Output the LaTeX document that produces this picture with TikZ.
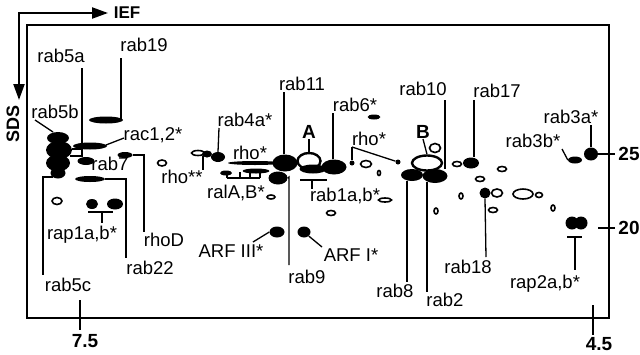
\documentclass[tikz,border=0pt]{standalone}
\usepackage{fontspec}
\setmainfont{Liberation Sans}
\usetikzlibrary{shapes.geometric,arrows.meta}
\begin{document}
\begin{tikzpicture}[x=1pt,y=-1pt,
  lbl/.style={font=\fontsize{18.5}{20}\selectfont, inner sep=0pt},
  blab/.style={font=\fontsize{19}{20}\selectfont\bfseries, inner sep=0pt},
  fs/.style 2 args={ellipse, fill=black, draw=none, inner sep=0pt, minimum width=#1 pt, minimum height=#2 pt},
  os/.style 2 args={ellipse, fill=white, draw=black, line width=1.6pt, inner sep=0pt, minimum width=#1 pt, minimum height=#2 pt},
  osb/.style 2 args={ellipse, fill=white, draw=black, line width=2.4pt, inner sep=0pt, minimum width=#1 pt, minimum height=#2 pt},
  con/.style={line width=1.3pt},
  tick/.style={line width=1.8pt},
  axarrow/.style={line width=2.2pt, {Triangle[length=16pt,width=11pt]}-{Triangle[length=16pt,width=11pt]}}]
\fill[white] (0,0) rectangle (640,354);
\useasboundingbox (0,0) rectangle (640,354);

% frame and axes
\node[draw, line width=1.6pt, minimum width=582pt, minimum height=293pt, inner sep=0pt, anchor=north west] (frame) at (26,24) {};
\node[blab, font=\fontsize{17}{18}\selectfont\bfseries] (ief) at (127,13) {IEF};
\node[blab, font=\fontsize{18}{18}\selectfont\bfseries, rotate=90] (sds) at (13,124) {SDS};
\coordinate (arc) at (19,13);
\coordinate (are) at (108,13);
\coordinate (ars) at (19,100);
\draw[axarrow] (are) -- (arc) -- (ars);
\node[blab] (x75) at (85,341) {7.5};
\node[blab] (x45) at (599,344) {4.5};
\node[blab] (y25) at (629,154) {25};
\node[blab] (y20) at (629,228) {20};
\coordinate (t75a) at (80,300); \coordinate (t75b) at (80,330);
\coordinate (t45a) at (593,305); \coordinate (t45b) at (593,335);
\coordinate (t25a) at (598,154); \coordinate (t25b) at (615,154);
\coordinate (t20a) at (598,228); \coordinate (t20b) at (615,228);
\draw[tick] (t75a) -- (t75b);
\draw[tick] (t45a) -- (t45b);
\draw[tick] (t25a) -- (t25b);
\draw[tick] (t20a) -- (t20b);

% labels
\node[lbl] (l19) at (144,45) {rab19};
\node[lbl] (l5a) at (61,56) {rab5a};
\node[lbl] (l5b) at (55,112) {rab5b};
\node[lbl] (lrac) at (153,135) {rac1,2*};
\node[lbl] (l7) at (110,164) {rab7};
\node[lbl] (lrhoss) at (182,177) {rho**};
\node[lbl] (l4a) at (245,120) {rab4a*};
\node[lbl] (lrho1) at (250,153) {rho*};
\node[lbl] (l11) at (302,84) {rab11};
\node[blab] (lA) at (309,132) {A};
\node[lbl] (l6) at (355,105) {rab6*};
\node[lbl] (lrho2) at (369,139) {rho*};
\node[lbl] (lral) at (236,193) {ralA,B*};
\node[lbl] (l1ab) at (345,196) {rab1a,b*};
\node[lbl] (l10) at (423,89) {rab10};
\node[blab] (lB) at (423,132) {B};
\node[lbl] (l17) at (497,91) {rab17};
\node[lbl] (l3a) at (571,117) {rab3a*};
\node[lbl] (l3b) at (533,141) {rab3b*};
\node[lbl] (lrap1) at (82,235) {rap1a,b*};
\node[lbl] (lrhoD) at (164,240) {rhoD};
\node[lbl] (l22) at (150,268) {rab22};
\node[lbl] (l5c) at (68,285) {rab5c};
\node[lbl] (larf3) at (231,251) {ARF III*};
\node[lbl] (larf1) at (351,255) {ARF I*};
\node[lbl] (l9) at (307,277) {rab9};
\node[lbl] (l8) at (395,291) {rab8};
\node[lbl] (l2) at (445,300) {rab2};
\node[lbl] (l18) at (468,267) {rab18};
\node[lbl] (lrap2) at (545,284) {rap2a,b*};

% leader-line free ends
\coordinate (e19) at (121,58);
\coordinate (e5a) at (82,68);
\coordinate (e5ab) at (82,157);
\coordinate (e5b) at (35,120);
\coordinate (e5bb) at (53,132);
\coordinate (erac) at (124,138);
\coordinate (eracb) at (106,145);
\coordinate (eD) at (144,232);
\coordinate (e22) at (126,258);
\coordinate (e5c) at (43,275);
\coordinate (e5cb) at (53,177);
\coordinate (erapL) at (88,212); \coordinate (erapR) at (113,212);
\coordinate (erapM) at (102,212); \coordinate (erapE) at (102,223);
\coordinate (erho) at (203,170);
\coordinate (e4a) at (219,128);
\coordinate (e11) at (284,92);
\coordinate (e9) at (289,265);
\coordinate (eA) at (309,139);
\coordinate (e6) at (333,113);
\coordinate (e1L) at (300,180); \coordinate (e1R) at (327,180);
\coordinate (e1M) at (312,180); \coordinate (e1E) at (312,189);
\coordinate (erh2) at (352,147);
\coordinate (eB) at (423,139);
\coordinate (e10) at (445,100);
\coordinate (e8) at (407,282);
\coordinate (e2) at (427,292);
\coordinate (e17) at (474,100);
\coordinate (e18) at (486,257);
\coordinate (er2L) at (567,237); \coordinate (er2R) at (582,237);
\coordinate (er2M) at (575,237); \coordinate (er2E) at (575,270);
\coordinate (e3a) at (591,125);
\coordinate (e3b) at (562,149);
\coordinate (ea3) at (253,242);
\coordinate (ea1) at (322,247);
\coordinate (ralL) at (227,178); \coordinate (ralR) at (260,178);

% filled spots
\node[fs={34}{7}] (s19) at (106,120) {};
\node[fs={34}{7}] (srac) at (90,146) {};
\node[fs={22}{12}] (c1) at (58,138) {};
\node[fs={26}{18}] (c2) at (59,150) {};
\node[fs={24}{17}] (c3) at (58,163) {};
\node[fs={15}{11}] (c4) at (58,173) {};
\node[fs={17}{8}] (s7) at (86,161) {};
\node[fs={15}{6}] (sD) at (125,155) {};
\node[fs={30}{6}] (s22) at (90,179) {};
\node[fs={12}{10}] (sr1a) at (92,204) {};
\node[fs={16}{11}] (sr1b) at (115,204) {};
\node[os={13}{5}] (oc) at (198,153) {};
\node[fs={10}{7}] (sc) at (207,154) {};
\node[fs={14}{10}] (s4a) at (218,157) {};
\node[fs={54}{4}] (sstreak) at (255,163) {};
\node[fs={12}{5}] (sralL) at (226,173) {};
\node[fs={27}{5}] (sralR) at (256,171) {};
\node[fs={19}{13}] (s9) at (278,178) {};
\node[fs={25}{17}] (s11) at (285,163) {};
\node[osb={23}{16}] (sA) at (309,161) {};
\node[fs={27}{9}] (s1ab) at (313,169) {};
\node[fs={25}{15}] (s6) at (334,167) {};
\node[fs={13}{5}] (s6b) at (374,117) {};
\node[fs={5}{5}] (sdot1) at (352,163) {};
\node[fs={5}{5}] (sdot2) at (398,162) {};
\node[fs={22}{12}] (s8) at (412,175) {};
\node[fs={25}{14}] (s2) at (435,176) {};
\node[osb={30}{15}] (sB) at (427,163) {};
\node[os={11}{9}] (oB) at (435,148) {};
\node[fs={16}{11}] (s17) at (471,163) {};
\node[fs={11}{11}] (s18) at (485,193) {};
\node[fs={13}{13}] (sr2a) at (572,223) {};
\node[fs={13}{13}] (sr2b) at (581,223) {};
\node[fs={14}{13}] (s3a) at (591,154) {};
\node[fs={14}{7}] (s3b) at (575,160) {};
\node[fs={15}{11}] (sa3) at (277,232) {};
\node[fs={13}{11}] (sa1) at (304,232) {};

% open spots
\node[os={10}{7}] (o1) at (57,201) {};
\node[os={9}{6}] (orho) at (162,163) {};
\node[os={8}{4}] (o2) at (271,197) {};
\node[os={9}{5}] (o3) at (331,213) {};
\node[os={13}{4}] (o4) at (385,200) {};
\node[os={11}{7}] (o5) at (366,164) {};
\node[os={3}{5}] (o6) at (379,173) {};
\node[os={9}{5}] (o7) at (457,164) {};
\node[os={9}{5}] (o8) at (502,169) {};
\node[os={9}{5}] (o9) at (480,179) {};
\node[os={11}{8}] (o10) at (497,193) {};
\node[os={4}{6}] (o11) at (461,196) {};
\node[os={9}{5}] (o12) at (493,210) {};
\node[os={4}{6}] (o13) at (436,211) {};
\node[os={20}{10}] (o14) at (523,194) {};
\node[os={7}{5}] (o15) at (539,195) {};
\node[os={4}{6}] (o16) at (553,208) {};

% leader lines
\draw[con] (e19) -- (e19 |- s19.east);
\draw[con] (e5a) -- (e5ab);
\draw[con] (c2.east |- 0,149) -- (82,149);
\draw[con] (c3.east |- 0,156) -- (82,156);
\draw[con] (e5b) -- (e5bb);
\draw[con] (erac) -- (eracb);
\draw[con] (sD.east) -| (eD);
\draw[con] (s22.east) -| (e22);
\draw[con] (e5cb) -| (e5c);
\draw[con] (erapL) -- (erapR);
\draw[con] (erapM) -- (erapE);
\draw[con] (sc.south west) ++(-1,0) coordinate (rc) -- (erho |- rc) -- (erho);
\draw[con] (e4a) -- (s4a.north);
\draw[con] (ralL) -- (ralR);
\draw[con] (ralL) -- (227,173);
\draw[con] (240,178) -- (240,172);
\draw[con] (250,178) -- (250,172);
\draw[con] (ralR) -- (260,172);
\draw[con] (e11) -- (e11 |- s11.north);
\draw[con] (s9.east) -- (289,177) -- (e9);
\draw[con] (eA) -- (sA.north);
\draw[con] (e6) -- (e6 |- s6.north);
\draw[con] (e1L) -- (e1R);
\draw[con] (e1M) -- (e1E);
\draw[con] (erh2) -- (sdot1);
\draw[con] (erh2) -- (sdot2);
\draw[con] (eB) -- (sB.north);
\draw[con] (e10) -- (e10 |- s2.north);
\draw[con] (s8.south) ++(-5,0) coordinate (r8) -- (e8);
\draw[con] (427,182) -- (e2);
\draw[con] (e17) -- (e17 |- s17.north);
\draw[con] (s18.south) -- (e18);
\draw[con] (er2L) -- (er2R);
\draw[con] (er2M) -- (er2E);
\draw[con] (e3a) -- (s3a.north);
\draw[con] (e3b) -- (s3b.west);
\draw[con] (sa3.west) -- (ea3);
\draw[con] (sa1.south east) -- (ea1);
\end{tikzpicture}
\end{document}
